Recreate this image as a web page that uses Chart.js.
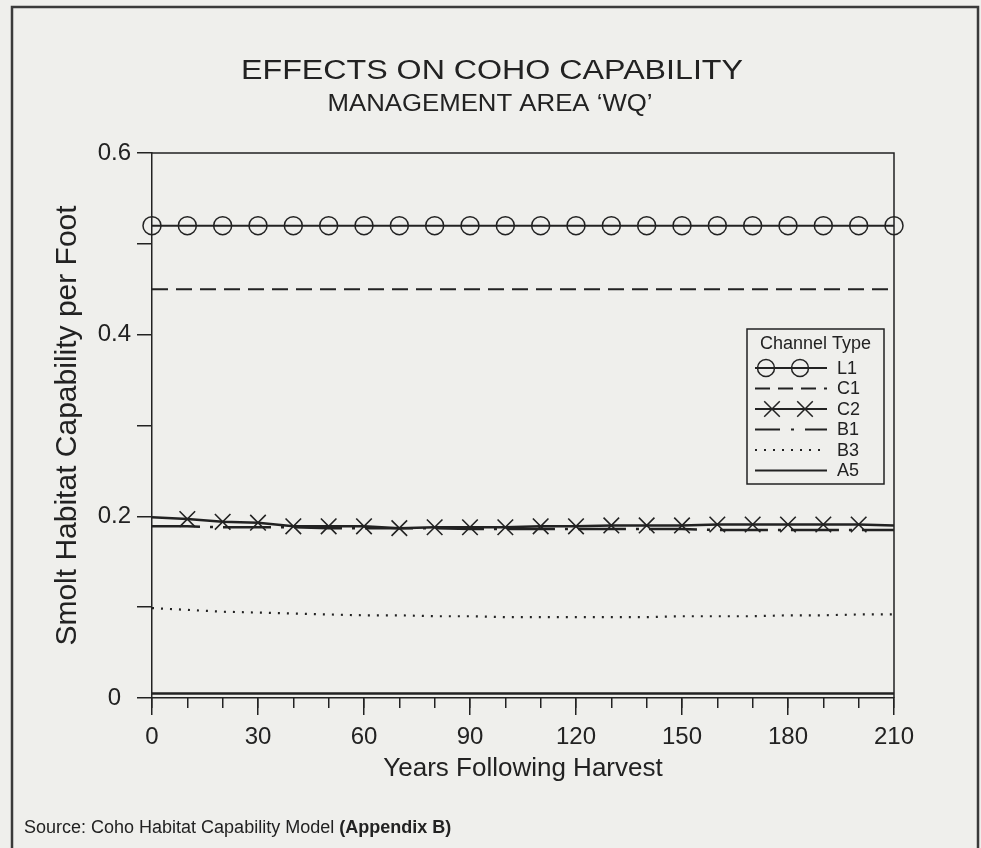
<!DOCTYPE html>
<html>
<head>
<meta charset="utf-8">
<script src="https://cdn.jsdelivr.net/npm/chart.js@4.4.1/dist/chart.umd.min.js"></script>
<style>
  html, body { margin: 0; padding: 0; background: #efefec; }
  canvas { display: block; }
</style>
</head>
<body>
<canvas id="chart" width="981" height="848"></canvas>
<script>
// years following harvest, one point every 10 years
const years = [0,10,20,30,40,50,60,70,80,90,100,110,120,130,140,150,160,170,180,190,200,210];

// smolt habitat capability per foot, by channel type
const l1 = [0.52,0.52,0.52,0.52,0.52,0.52,0.52,0.52,0.52,0.52,0.52,0.52,0.52,0.52,0.52,0.52,0.52,0.52,0.52,0.52,0.52,0.52];
const c1 = [0.45,0.45,0.45,0.45,0.45,0.45,0.45,0.45,0.45,0.45,0.45,0.45,0.45,0.45,0.45,0.45,0.45,0.45,0.45,0.45,0.45,0.45];
const c2 = [0.199,0.197,0.194,0.193,0.189,0.189,0.189,0.187,0.188,0.188,0.188,0.189,0.189,0.190,0.190,0.190,0.191,0.191,0.191,0.191,0.191,0.190];
const b1 = [0.189,0.189,0.188,0.188,0.188,0.187,0.187,0.187,0.187,0.186,0.186,0.186,0.186,0.186,0.186,0.186,0.185,0.185,0.185,0.185,0.185,0.185];
const b3 = [0.099,0.097,0.095,0.094,0.093,0.092,0.091,0.091,0.090,0.090,0.089,0.089,0.089,0.089,0.089,0.090,0.090,0.090,0.091,0.091,0.092,0.092];
const a5 = [0.005,0.005,0.005,0.005,0.005,0.005,0.005,0.005,0.005,0.005,0.005,0.005,0.005,0.005,0.005,0.005,0.005,0.005,0.005,0.005,0.005,0.005];

const seriesNames = ['L1','C1','C2','B1','B3','A5'];
const xTickLabels = [0,30,60,90,120,150,180,210];
const yTickLabels = [0,0.2,0.4,0.6];

const ink = '#222222';
const paper = '#efefec';
const fontName = '"Liberation Sans", Arial, sans-serif';

// legend box look (line samples per row)
const legendBox = { left: 747, top: 329, width: 137, height: 155, title: 'Channel Type' };
const legendDashes = [[], [15, 8], [], [25, 11, 3, 11], [2, 7], []];
const legendMarkX = [[19, 53], [], [25, 58], [], [], []];
const legendMarkR = [8.5, 0, 11, 0, 0, 0];

function pts(arr) {
  return years.map((x, i) => ({ x: x, y: arr[i] }));
}

// no X marks on the very ends of the C2 line
function c2Radius(ctx) {
  return (ctx.dataIndex === 0 || ctx.dataIndex === years.length - 1) ? 0 : 11;
}

const titlesPlugin = {
  id: 'stretchTitles',
  afterDraw(chart) {
    const ctx = chart.ctx;
    const lines = [
      { text: 'EFFECTS ON COHO CAPABILITY', font: '27px ' + fontName, x: 492, y: 72, width: 502 },
      { text: 'MANAGEMENT AREA \u2018WQ\u2019', font: '23px ' + fontName, x: 490, y: 105, width: 325 }
    ];
    lines.forEach(l => {
      ctx.save();
      ctx.font = l.font;
      ctx.fillStyle = ink;
      ctx.textAlign = 'center';
      ctx.textBaseline = 'middle';
      const w = ctx.measureText(l.text).width;
      ctx.translate(l.x, l.y);
      ctx.scale(l.width / w, 1);
      ctx.fillText(l.text, 0, 0);
      ctx.restore();
    });
    // source note
    ctx.save();
    ctx.fillStyle = ink;
    ctx.textBaseline = 'middle';
    ctx.textAlign = 'left';
    ctx.font = '18px ' + fontName;
    const s1 = 'Source: Coho Habitat Capability Model ';
    ctx.fillText(s1, 24, 828);
    const w1 = ctx.measureText(s1).width;
    ctx.font = 'bold 18px ' + fontName;
    ctx.fillText('(Appendix B)', 24 + w1, 828);
    ctx.restore();
  }
};

const framePlugin = {
  id: 'frames',
  beforeDatasetsDraw(chart) {
    const ctx = chart.ctx;
    const a = chart.chartArea;
    ctx.save();
    // page frame, its bottom edge runs off the picture
    ctx.strokeStyle = '#3a3a3a';
    ctx.lineWidth = 2.5;
    ctx.strokeRect(12, 7, 966, 850);
    ctx.strokeStyle = ink;
    ctx.lineWidth = 1.5;
    ctx.beginPath();
    ctx.moveTo(a.left, a.top);
    ctx.lineTo(a.right, a.top);
    ctx.lineTo(a.right, a.bottom);
    ctx.stroke();
    ctx.restore();
  }
};

const legendPlugin = {
  id: 'channelLegend',
  afterDraw(chart) {
    const ctx = chart.ctx;
    const b = legendBox;
    ctx.save();
    ctx.fillStyle = paper;
    ctx.fillRect(b.left, b.top, b.width, b.height);
    ctx.strokeStyle = ink;
    ctx.lineWidth = 1.5;
    ctx.strokeRect(b.left, b.top, b.width, b.height);
    ctx.fillStyle = ink;
    ctx.textAlign = 'center';
    ctx.textBaseline = 'middle';
    ctx.font = '18px ' + fontName;
    ctx.fillText(b.title, b.left + b.width / 2, b.top + 15);
    ctx.textAlign = 'left';
    chart.data.datasets.forEach((ds, i) => {
      const y = b.top + 39 + i * 20.5;
      ctx.strokeStyle = ink;
      ctx.lineWidth = 2;
      ctx.setLineDash(legendDashes[i]);
      ctx.beginPath();
      ctx.moveTo(b.left + 8, y);
      ctx.lineTo(b.left + 80, y);
      ctx.stroke();
      ctx.setLineDash([]);
      legendMarkX[i].forEach(mx => {
        ctx.fillStyle = 'rgba(0,0,0,0)';
        ctx.lineWidth = 1.5;
        Chart.helpers.drawPoint(ctx, { pointStyle: ds.pointStyle, radius: legendMarkR[i], borderWidth: 1.5, rotation: 0 }, b.left + mx, y);
      });
      ctx.fillStyle = ink;
      ctx.fillText(ds.label, b.left + 90, y + 1);
    });
    ctx.restore();
  }
};

const ctx = document.getElementById('chart').getContext('2d');
const chart = new Chart(ctx, {
  type: 'line',
  data: {
    datasets: [
      { label: seriesNames[0], data: pts(l1), borderColor: ink, borderWidth: 2,
        pointStyle: 'circle', pointRadius: 9, pointBorderWidth: 1.5,
        pointBorderColor: ink, pointBackgroundColor: 'rgba(0,0,0,0)' },
      { label: seriesNames[1], data: pts(c1), borderColor: ink, borderWidth: 2.2,
        borderDash: [16, 8], pointRadius: 0 },
      { label: seriesNames[2], data: pts(c2), borderColor: ink, borderWidth: 2.5,
        pointStyle: 'crossRot', pointRadius: c2Radius, pointBorderWidth: 1.6,
        pointBorderColor: ink },
      { label: seriesNames[3], data: pts(b1), borderColor: ink, borderWidth: 2.5,
        borderDash: [48, 10, 3, 10], pointRadius: 0 },
      { label: seriesNames[4], data: pts(b3), borderColor: ink, borderWidth: 2.2,
        borderDash: [2, 7], pointRadius: 0 },
      { label: seriesNames[5], data: pts(a5), borderColor: ink, borderWidth: 2.5,
        pointRadius: 0 }
    ]
  },
  options: {
    responsive: false,
    animation: false,
    clip: false,
    layout: { padding: { left: 50, right: 87, top: 153, bottom: 64 } },
    plugins: {
      legend: { display: false },
      tooltip: { enabled: false }
    },
    scales: {
      x: {
        type: 'linear', position: 'bottom', weight: 1,
        min: 0, max: 210,
        afterFit: s => { s.height = 86; },
        afterBuildTicks: s => { s.ticks = xTickLabels.map(v => ({ value: v })); },
        ticks: { color: ink, font: { family: fontName, size: 24 }, padding: 8, maxRotation: 0 },
        grid: { drawOnChartArea: false, color: ink, lineWidth: 1.5, tickLength: 17 },
        border: { color: ink, width: 1.5 },
        title: { display: true, text: 'Years Following Harvest', color: ink,
                 font: { family: fontName, size: 26 }, padding: { top: 0, bottom: 0 } }
      },
      xMinor: {
        type: 'linear', position: 'bottom', weight: 0,
        min: 0, max: 210,
        afterFit: s => { s.height = 0; },
        afterBuildTicks: s => { s.ticks = years.map(v => ({ value: v })); },
        ticks: { display: false },
        grid: { drawOnChartArea: false, color: ink, lineWidth: 1.5, tickLength: 10 },
        border: { display: false }
      },
      y: {
        min: 0, max: 0.6,
        afterFit: s => { s.width = 102; },
        ticks: {
          stepSize: 0.1, color: ink, padding: 6, crossAlign: 'center',
          font: { family: fontName, size: 24 },
          callback: v => {
            const t = yTickLabels.find(t => Math.abs(t - v) < 1e-6);
            return t === undefined ? '' : (t === 0 ? '0' : t.toFixed(1));
          }
        },
        grid: { drawOnChartArea: false, color: ink, lineWidth: 1.5, tickLength: 15 },
        border: { color: ink, width: 1.5 },
        title: { display: true, text: 'Smolt Habitat Capability per Foot', color: ink,
                 font: { family: fontName, size: 30 }, padding: { top: 0, bottom: 0 } }
      }
    }
  },
  plugins: [framePlugin, titlesPlugin, legendPlugin]
});
</script>
</body>
</html>
